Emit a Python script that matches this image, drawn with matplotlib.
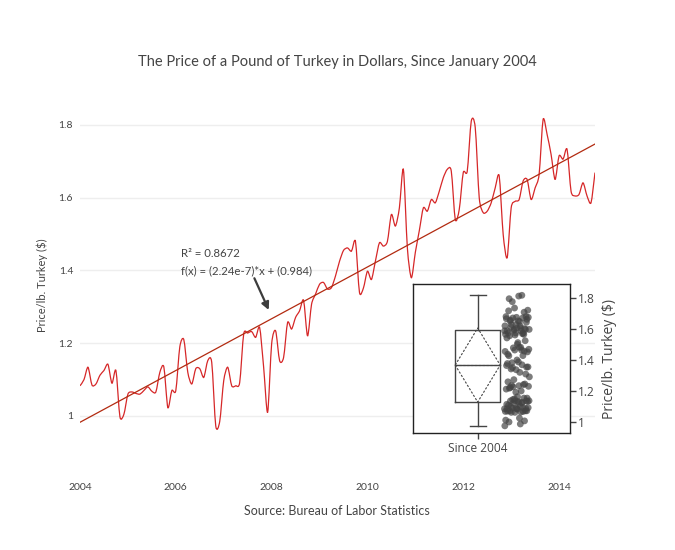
import numpy as np
import matplotlib
matplotlib.use("Agg")
import matplotlib.pyplot as plt
from matplotlib.path import Path
from matplotlib.patches import PathPatch

# monthly price per lb, Jan 2004 .. Oct 2014
price = [
    1.083, 1.100, 1.134, 1.085, 1.088, 1.112, 1.125, 1.142, 1.090, 1.125, 0.998, 1.005,
    1.060, 1.066, 1.062, 1.060, 1.070, 1.080, 1.068, 1.066, 1.120, 1.135, 1.023, 1.070,
    1.070, 1.190, 1.210, 1.120, 1.088, 1.130, 1.130, 1.106, 1.152, 1.147, 0.973, 0.985,
    1.097, 1.134, 1.083, 1.083, 1.092, 1.225, 1.228, 1.232, 1.216, 1.243, 1.134, 1.010,
    1.198, 1.234, 1.152, 1.161, 1.257, 1.239, 1.271, 1.289, 1.318, 1.220, 1.307, 1.335,
    1.362, 1.367, 1.349, 1.353, 1.385, 1.425, 1.455, 1.462, 1.453, 1.480, 1.340, 1.352,
    1.398, 1.375, 1.426, 1.476, 1.467, 1.480, 1.554, 1.522, 1.572, 1.678, 1.462, 1.380,
    1.450, 1.510, 1.572, 1.563, 1.595, 1.586, 1.618, 1.655, 1.678, 1.673, 1.540, 1.568,
    1.669, 1.673, 1.810, 1.793, 1.600, 1.559, 1.563, 1.586, 1.627, 1.660, 1.499, 1.435,
    1.572, 1.590, 1.595, 1.646, 1.650, 1.595, 1.627, 1.664, 1.815, 1.774, 1.719, 1.650,
    1.715, 1.706, 1.733, 1.618, 1.605, 1.609, 1.641, 1.605, 1.586, 1.669,
]
start_year = 2004
year_ticks = [2004, 2006, 2008, 2010, 2012, 2014]
price_ticks = [1.0, 1.2, 1.4, 1.6, 1.8]
r_squared = "0.8672"
fit_label = "f(x) = (2.24e-7)*x + (0.984)"
box_category = "Since 2004"

title = "The Price of a Pound of Turkey in Dollars, Since January 2004"
y_title = "Price/lb. Turkey ($)"
source = "Source: Bureau of Labor Statistics"

prices = np.array(price)
years = start_year + np.arange(len(prices)) / 12.0

W, H = 675, 550
FONT = "Lato"
TXT = "#444444"


def fx(px):
    return px / W


def fy(py):
    return 1 - py / H


def spline_path(x, y, k=0.13):
    # cardinal spline smoothing, close to plotly's "spline" line shape
    pts = np.column_stack([x, y])
    verts = [pts[0]]
    codes = [Path.MOVETO]
    n = len(pts)
    for i in range(n - 1):
        p0 = pts[max(i - 1, 0)]
        p1 = pts[i]
        p2 = pts[i + 1]
        p3 = pts[min(i + 2, n - 1)]
        verts += [p1 + (p2 - p0) * k, p2 - (p3 - p1) * k, p2]
        codes += [Path.CURVE4] * 3
    return Path(verts, codes)


fig = plt.figure(figsize=(W / 100, H / 100), dpi=100)

# main chart
ax = fig.add_axes([fx(80), fy(470), fx(515), 370 / H])
ax.set_xlim(years[0], years[-1])
ax.set_ylim(0.8515, 1.8686)
for s in ax.spines.values():
    s.set_visible(False)
ax.set_yticks(price_ticks)
ax.set_yticklabels(["{:g}".format(t) for t in price_ticks])
ax.set_xticks(year_ticks)
ax.set_xticklabels([str(t) for t in year_ticks])
ax.tick_params(length=0, labelsize=7.5, labelcolor=TXT)
ax.tick_params(axis="x", pad=9)
ax.tick_params(axis="y", pad=5)
for lab in ax.get_xticklabels() + ax.get_yticklabels():
    lab.set_family(FONT)
ax.grid(axis="y", color="#eeeeee", lw=1)
ax.set_axisbelow(True)

ax.add_patch(PathPatch(spline_path(years, prices), fill=False,
                       edgecolor="#d62728", lw=0.9, zorder=3))

slope, intercept = np.polyfit(years, prices, 1)
ax.plot(years[[0, -1]], intercept + slope * years[[0, -1]],
        color="#b22a10", lw=0.9, zorder=4)

ax.text(2006.107, 1.4454, "R\u00b2 = " + r_squared, family=FONT, fontsize=8.2,
        color=TXT, va="center", ha="left")
ax.text(2006.107, 1.3995, fit_label, family=FONT, fontsize=8.2,
        color=TXT, va="center", ha="left")
ax.annotate("", xy=(2007.94, 1.2914), xytext=(2007.64, 1.3786),
            arrowprops=dict(arrowstyle="-|>", color="#3d3d3d", lw=1.6,
                            mutation_scale=11, shrinkA=0, shrinkB=0))

fig.text(fx(337), fy(62), title, family=FONT, fontsize=10.5, color=TXT,
         ha="center", va="center")
fig.text(fx(42), fy(285), y_title, family=FONT, fontsize=8, color=TXT,
         ha="center", va="center", rotation=90)
fig.text(fx(337), fy(511), source, family=FONT, fontsize=9, color=TXT,
         ha="center", va="center")

# inset box plot
ax2 = fig.add_axes([fx(413.3), fy(433.3), fx(156.7), 149 / H])
ax2.set_facecolor("white")
ax2.set_xlim(-0.5, 0.5)
ax2.set_ylim(0.925, 1.886)
for s in ax2.spines.values():
    s.set_color("#222222")
    s.set_linewidth(1)
ax2.yaxis.tick_right()
ax2.yaxis.set_label_position("right")
ax2.set_yticks(price_ticks)
ax2.set_yticklabels(["{:g}".format(t) for t in price_ticks])
ax2.set_xticks([-0.089])
ax2.set_xticklabels([box_category])
ax2.tick_params(direction="out", length=4, width=1, color="#444444",
                labelsize=8.6, labelcolor=TXT, pad=2)
ax2.tick_params(axis="y", left=False)
for lab in ax2.get_xticklabels() + ax2.get_yticklabels():
    lab.set_family("Open Sans")
ax2.set_ylabel(y_title, family="Open Sans", fontsize=10, color=TXT, labelpad=5)

q1, med, q3 = np.percentile(prices, [25, 50, 75])
iqr = q3 - q1
lo = prices[prices >= q1 - 1.5 * iqr].min()
hi = prices[prices <= q3 + 1.5 * iqr].max()
mean = prices.mean()
sd = prices.std()
cx, half = -0.089, 0.1435
bc = "#444444"
ax2.plot([cx - half, cx + half, cx + half, cx - half, cx - half],
         [q1, q1, q3, q3, q1], color=bc, lw=1)
ax2.plot([cx - half, cx + half], [med, med], color=bc, lw=1)
ax2.plot([cx, cx], [q3, hi], color=bc, lw=1)
ax2.plot([cx, cx], [q1, lo], color=bc, lw=1)
ax2.plot([cx - 0.05, cx + 0.05], [hi, hi], color=bc, lw=1)
ax2.plot([cx - 0.05, cx + 0.05], [lo, lo], color=bc, lw=1)
ax2.plot([cx - half, cx, cx + half, cx, cx - half],
         [mean, mean + sd, mean, mean - sd, mean], color=bc, lw=0.8, ls=(0, (2, 1.5)))
ax2.plot([cx - half, cx + half], [mean, mean], color=bc, lw=0.8, ls=(0, (2, 1.5)))

# deterministic jitter for the points column
jit = (np.arange(len(prices)) * 0.618034) % 1 - 0.5
ax2.scatter(0.162 + jit * 0.16, prices, s=24, color="#444444", alpha=0.7,
            edgecolors="none", zorder=3)

fig.savefig("out.png", dpi=100)
